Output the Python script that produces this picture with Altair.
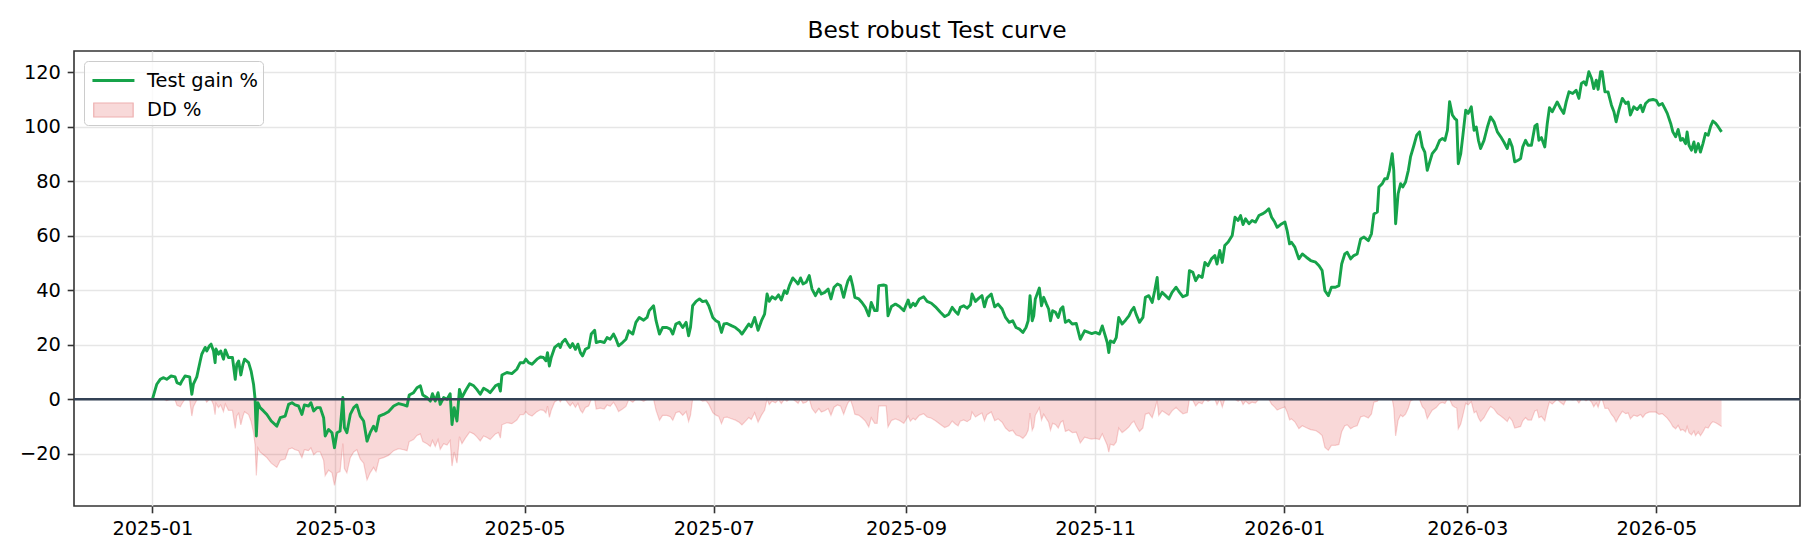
import altair as alt
import pandas as pd

TITLE = "Best robust Test curve"
START = "2025-01-01"
SERIES = ["Test gain %", "DD %"]
ZERO = [0]
TICK_MONTHS = ["2025-01", "2025-03", "2025-05", "2025-07", "2025-09",
               "2025-11", "2026-01", "2026-03", "2026-05"]
Y_TICKS = [-20, 0, 20, 40, 60, 80, 100, 120]

# days after START
DAYS = [
    0, 1.4, 2.5, 3.6, 4.6, 6, 7.3, 7.9, 9, 9.5,
    10.5, 12, 12.7, 13.2, 14.3, 15.4, 15.9, 17, 17.5, 18.4,
    18.9, 19.7, 20.2, 20.5, 21.3, 22, 22.9, 23.5, 24.5, 25.8,
    26.7, 27.2, 27.8, 28.5, 29.2, 29.7, 31, 31.8, 32.6, 33.1,
    33.5, 34, 34.7, 35.8, 36.9, 38.3, 40.1, 41.2, 42.8, 43.9,
    45, 46, 47.1, 48.2, 49, 50.3, 51.1, 52, 53, 54.1,
    55.2, 55.7, 56.8, 57.9, 58.7, 59.5, 60.5, 61.4, 61.9, 62.7,
    63.8, 64.9, 65.9, 67, 68.1, 69.2, 70.2, 71.3, 72.1, 73.1,
    74.5, 76.1, 77.8, 79.4, 81, 82.1, 82.8, 84.2, 85.3, 86.4,
    87.2, 88.5, 89.6, 90.3, 91.2, 92.1, 92.8, 93.9, 95, 96,
    96.6, 97.3, 98.2, 99, 99.8, 100.9, 102.3, 103.6, 104.6, 105.7,
    106.8, 107.9, 108.9, 110.6, 111.6, 112.2, 112.7, 114.3, 115.9, 117.5,
    118.6, 119.7, 120.4, 121.3, 122.4, 124, 125.1, 126.1, 126.9, 127.4,
    128, 128.6, 129.7, 131, 131.5, 132.1, 133.1, 134, 134.7, 135.5,
    136.4, 137.2, 138, 138.7, 139.6, 140.7, 141.5, 142.6, 143.1, 144.4,
    145.7, 146.6, 147.6, 148.7, 149.5, 150.3, 151.6, 152.7, 153.6, 154.9,
    155.9, 157, 158.4, 159.5, 160.2, 161.6, 162.4, 163.5, 164.5, 165.9,
    167, 167.8, 168.8, 169.9, 171, 172.1, 172.9, 173.5, 174.2, 175.3,
    176.4, 177.4, 178.5, 179.4, 180.7, 181.7, 182.6, 183.5, 184.3, 185.3,
    186.7, 188, 189.3, 190.1, 191.2, 192.3, 193.1, 194.2, 195.3, 196.4,
    197.4, 198.2, 198.9, 199.8, 200.9, 201.9, 202.8, 203.8, 204.6, 205.4,
    206.5, 207.3, 208.2, 209, 209.8, 210.8, 211.8, 212.7, 213.8, 214.9,
    215.7, 216.8, 217.9, 218.8, 219.8, 220.9, 221.9, 222.9, 223.7, 224.3,
    225.1, 225.8, 226.5, 227.8, 228.8, 229.9, 231, 231.8, 232.9, 233.7,
    234.2, 235.8, 236.6, 237.2, 238.3, 239.6, 240.9, 242.3, 243.7, 244.4,
    245.3, 246, 247.3, 248.7, 249.8, 251.2, 252.5, 254.1, 255.5, 256.8,
    257.9, 258.9, 259.8, 260.5, 261.6, 262.7, 263.8, 264.3, 265.4, 266.5,
    267.5, 268.3, 269.1, 270.5, 271.6, 272.7, 274, 275.1, 276.3, 277.4,
    278.5, 279.6, 280.7, 281.7, 282.4, 283, 283.7, 284.2, 284.7, 285.3,
    286, 286.7, 287.4, 288.3, 289, 289.6, 290.3, 291.2, 292.1, 292.9,
    293.6, 294.4, 295.5, 296.6, 297.9, 299.2, 300.6, 301.9, 302.9, 304.1,
    305.4, 306.3, 307.1, 307.9, 308.4, 308.9, 310, 310.8, 311.6, 312.7,
    313.8, 314.9, 315.7, 316.5, 317.2, 318.3, 319.4, 320.2, 321.3, 322.4,
    323.2, 324, 324.5, 325.6, 326.7, 327.8, 328.8, 330.1, 331.2, 332.3,
    333.7, 334.4, 335.5, 336.4, 337.4, 338.5, 339.4, 340.4, 341.5, 342.6,
    343.3, 344.2, 345, 345.8, 346.9, 348.2, 349.1, 350.1, 350.9, 351.7,
    352.5, 353.6, 354.6, 355.7, 356.8, 357.9, 358.9, 360, 360.9, 361.9,
    362.7, 363.8, 365.2, 365.9, 366.7, 367.3, 368.4, 369.7, 370.8, 372.1,
    373.5, 375.1, 376.2, 377.2, 378.1, 379.2, 380.2, 381.5, 382.6, 383.5,
    384.5, 385.3, 386.4, 387.4, 388.5, 389.6, 390.7, 392.1, 393.1, 393.9,
    395, 395.5, 396.6, 397.4, 398.2, 398.9, 399.8, 400.3, 400.9, 401.7,
    402.5, 403.2, 404.1, 405, 405.7, 406.8, 407.7, 408.6, 409.5, 410.3,
    411.1, 411.9, 412.7, 414, 415.1, 416, 416.8, 417.6, 418.3, 419.2,
    420, 420.6, 421.1, 421.9, 422.6, 423.5, 424.3, 425.3, 426.2, 426.9,
    427.6, 428.3, 429.4, 430.5, 431.5, 432.6, 433.7, 434.8, 435.8, 436.9,
    437.6, 438.5, 439.3, 440.4, 441.2, 441.9, 442.8, 443.6, 444.7, 445.8,
    446.5, 447.1, 447.9, 449, 449.8, 450.5, 451.4, 452.2, 453, 454.1,
    455.1, 455.9, 456.8, 458, 459.1, 460, 460.8, 461.6, 462.3, 463.2,
    464.1, 464.8, 465.6, 466.2, 467, 467.5, 468.4, 469.4, 470.5, 471.3,
    472, 472.9, 474, 475.1, 475.9, 476.6, 477.7, 478.8, 479.9, 480.6,
    481.5, 482.6, 483.9, 484.9, 485.8, 486.9, 487.7, 488.5, 489.6, 490.3,
    491.2, 492, 492.8, 493.5, 494.4, 494.9, 495.5, 496.3, 497.1, 497.6,
    498.5, 499.2, 500, 500.8, 501.7, 502.5, 503.2, 504.1, 504.9, 506,
]

# Test gain %
GAIN = [
    0, 5.5, 7.3, 7.9, 7.3, 8.5, 8.2, 6.1, 5.5, 6.7,
    8.5, 8.2, 1.8, 5.5, 8.2, 14, 16.5, 19, 17.7, 19.6,
    20.2, 17.7, 13.4, 18.4, 16.5, 17.7, 14.7, 18.1, 15.3, 15.3,
    7.3, 12.8, 14, 8.9, 12.8, 14.7, 13.4, 10.4, 5.5, 0,
    -13.5, -1.3, -3.1, -4.3, -5.6, -8, -9.9, -6.8, -6.2, -1.9,
    -1.3, -2.1, -2.5, -5.6, -2.1, -2.5, -1.3, -4.3, -3.1, -3.1,
    -6.8, -13.5, -11.1, -12.3, -17.8, -12.3, -11.7, 0.6, -10.4, -12.3,
    -5.6, -3.1, -2.1, -6.2, -8, -15.4, -12.3, -9.9, -11.7, -6.2,
    -5.6, -4.6, -2.5, -1.6, -2.1, -2.5, 1.5, 2.4, 4.2, 4.9,
    1.5, 0.6, -0.7, 2, -0.7, 2.4, -1.9, 0.6, 0, 2,
    -9.3, -3.1, -8, 3.6, 0.6, 3, 5.7, 4.9, 3.6, 1.8,
    4, 3.3, 2.4, 4.9, 5.5, 3, 8.9, 9.8, 9.4, 11,
    13.4, 13.4, 14.7, 13.4, 12.8, 14.7, 15.5, 15.3, 14.1, 17.1,
    12.2, 15.3, 19, 20.2, 19, 20.8, 22, 20.2, 19, 20.4,
    18.3, 20.2, 17.1, 15.9, 18.3, 19, 23.9, 25.3, 20.8, 21.2,
    20.8, 22.6, 22, 23.9, 22, 19.6, 20.8, 22, 25.1, 23.9,
    28.2, 30, 29, 30, 32.5, 34.3, 28.8, 23.9, 26.3, 26.3,
    25.7, 23.9, 27.6, 28.2, 26.3, 28.2, 23.3, 26.3, 34.3, 35.9,
    36.8, 35.8, 36.1, 34.3, 30, 28.8, 28.2, 24.5, 27.6, 27.8,
    27, 26.3, 25.1, 23.9, 25.7, 27.6, 26.6, 30, 25.3, 28.8,
    31.2, 38.6, 35.9, 37.6, 36.8, 38.3, 36.4, 39.8, 38.8, 41.7,
    44.5, 43.5, 42.3, 44.5, 42.3, 42.9, 45.4, 40.4, 38, 40.4,
    38.6, 39.2, 40.4, 36.8, 41.1, 42.3, 41.7, 37.4, 41.1, 43.5,
    45, 41.7, 37.4, 36.8, 35.5, 33.7, 30.6, 35.5, 32.5, 32.5,
    41.7, 41.9, 41.7, 30.6, 34, 34.9, 34, 32.5, 36.4, 33.7,
    35.2, 34.3, 36.8, 37.6, 35.9, 35.2, 33.9, 31.9, 30.3, 31.2,
    33.7, 32.2, 31.2, 33.7, 34.3, 33.4, 34.7, 38.6, 35.9, 37.1,
    38, 33.9, 37.1, 38.6, 33.9, 34.9, 33.1, 30, 28.2, 28.8,
    26.3, 25.7, 24.5, 26.3, 28.8, 38, 28.8, 30.6, 36.8, 38.6,
    40.8, 34.3, 37.4, 34.9, 33.1, 28.8, 32.5, 31.9, 30, 33.1,
    33.9, 28.2, 29, 27.6, 27.8, 22, 25.1, 24.5, 24.1, 24.5,
    23.9, 26.9, 23.9, 20.8, 17.1, 21.4, 20.8, 22.6, 30, 27.6,
    29, 30.6, 32.5, 33.7, 31.2, 28.2, 30, 37.4, 38, 35.5,
    39.8, 44.7, 36.8, 39.2, 38, 36.8, 39.2, 41.1, 39.2, 37.6,
    38.3, 47.2, 46.6, 43.5, 45.4, 44.7, 50.2, 49, 51.5, 52.7,
    49.6, 54.6, 50.2, 56.4, 57.7, 60.1, 66.8, 65.6, 67.4, 64.1,
    66.2, 64.4, 65.6, 65, 67.4, 68, 68.7, 69.9, 66.8, 65,
    63.1, 64.1, 65, 61.9, 57, 57.6, 55.8, 51.5, 53.3, 52.1,
    50.9, 50.3, 49, 47.2, 39.8, 38, 41.1, 41.1, 41.7, 49.6,
    53.3, 53.9, 51.5, 52.7, 53.3, 58.8, 59.5, 58.2, 60.7, 68,
    68.7, 77.9, 79.1, 80.9, 80.9, 84, 90.1, 84, 64.4, 75.4,
    79.1, 77.9, 79.7, 84, 88.9, 93.2, 96.9, 98.1, 92.6, 90.7,
    84, 87.1, 90.1, 92, 95, 95.7, 95, 98.7, 109.2, 104.3,
    103, 102.4, 86.4, 90.1, 96.9, 106.1, 104.9, 107.3, 98.7, 99.9,
    95, 92, 95, 99.9, 103.6, 101.8, 98.1, 96.3, 94.4, 92,
    95.3, 92.6, 87.1, 87.7, 88.3, 92.6, 95, 93.2, 93.2, 100.2,
    100.9, 95, 96, 92.6, 101.2, 107, 105.5, 107.3, 109.1, 106.7,
    104.9, 109.1, 112.8, 112.2, 113.4, 110.4, 115.9, 116.5, 115.3, 120.2,
    117.7, 114, 117.1, 113.7, 120.2, 120.2, 112.8, 112.8, 107.9, 105.5,
    101.8, 106.1, 110.4, 108.5, 109.1, 104.3, 107.3, 106.3, 107.9, 105.5,
    108.5, 109.7, 110, 109.7, 107.9, 108.5, 106.7, 104.9, 101.2, 98.1,
    96.3, 99, 95, 95.7, 93.8, 98.1, 93.2, 91.4, 94.4, 90.7,
    93.8, 90.7, 93.8, 97.5, 96.9, 100.2, 102.1, 101.2, 100, 98.1,
]

# DD %
DD = [
    0, 0, 0, 0, -0.56, 0, -0.28, -2.21, -2.76, -1.66,
    0, -0.28, -6.18, -2.76, -0.28, 0, 0, 0, -1.09, 0,
    0, -2.08, -5.66, -1.5, -3.08, -2.08, -4.58, -1.75, -4.08, -4.08,
    -10.73, -6.16, -5.16, -9.4, -6.16, -4.58, -5.66, -8.15, -12.23, -16.81,
    -28.04, -17.89, -19.38, -20.38, -21.46, -23.46, -25.04, -22.46, -21.96, -18.39,
    -17.89, -18.55, -18.89, -21.46, -18.55, -18.89, -17.89, -20.38, -19.38, -19.38,
    -22.46, -28.04, -26.04, -27.04, -31.61, -27.04, -26.54, -16.31, -25.46, -27.04,
    -21.46, -19.38, -18.55, -21.96, -23.46, -29.62, -27.04, -25.04, -26.54, -21.96,
    -21.46, -20.63, -18.89, -18.14, -18.55, -18.89, -15.56, -14.81, -13.31, -12.73,
    -15.56, -16.31, -17.39, -15.14, -17.39, -14.81, -18.39, -16.31, -16.81, -15.14,
    -24.54, -19.38, -23.46, -13.81, -16.31, -14.31, -12.06, -12.73, -13.81, -15.31,
    -13.48, -14.06, -14.81, -12.73, -12.23, -14.31, -9.4, -8.65, -8.99, -7.65,
    -5.66, -5.66, -4.58, -5.66, -6.16, -4.58, -3.91, -4.08, -5.07, -2.58,
    -6.66, -4.08, -1.0, 0, -1.0, 0, 0, -1.48, -2.46, -1.31,
    -3.03, -1.48, -4.02, -5.0, -3.03, -2.46, 0, 0, -3.59, -3.27,
    -3.59, -2.15, -2.63, -1.12, -2.63, -4.55, -3.59, -2.63, -0.16, -1.12,
    0, 0, -0.77, 0, 0, 0, -4.1, -7.74, -5.96, -5.96,
    -6.4, -7.74, -4.99, -4.54, -5.96, -4.54, -8.19, -5.96, 0, 0,
    0, -0.73, -0.51, -1.83, -4.97, -5.85, -6.29, -8.99, -6.73, -6.58,
    -7.16, -7.68, -8.55, -9.43, -8.11, -6.73, -7.46, -4.97, -8.41, -5.85,
    -4.09, 0, -1.95, -0.72, -1.3, -0.22, -1.59, 0, -0.72, 0,
    0, -0.69, -1.52, 0, -1.52, -1.11, 0, -3.44, -5.09, -3.44,
    -4.68, -4.26, -3.44, -5.92, -2.96, -2.13, -2.54, -5.5, -2.96, -1.31,
    -0.28, -2.54, -5.5, -5.92, -6.81, -8.05, -10.18, -6.81, -8.87, -8.87,
    -2.54, -2.41, -2.54, -10.18, -7.84, -7.22, -7.84, -8.87, -6.19, -8.05,
    -7.01, -7.63, -5.92, -5.36, -6.53, -7.01, -7.91, -9.28, -10.39, -9.77,
    -8.05, -9.08, -9.77, -8.05, -7.63, -8.25, -7.36, -4.68, -6.53, -5.71,
    -5.09, -7.91, -5.71, -4.68, -7.91, -7.22, -8.46, -10.59, -11.83, -11.42,
    -13.13, -13.55, -14.37, -13.13, -11.42, -5.09, -11.42, -10.18, -5.92, -4.68,
    -3.16, -7.63, -5.5, -7.22, -8.46, -11.42, -8.87, -9.28, -10.59, -8.46,
    -7.91, -11.83, -11.28, -12.24, -12.1, -16.09, -13.96, -14.37, -14.65, -14.37,
    -14.79, -12.72, -14.79, -16.92, -19.46, -16.51, -16.92, -15.68, -10.59, -12.24,
    -11.28, -10.18, -8.87, -8.05, -9.77, -11.83, -10.59, -5.5, -5.09, -6.81,
    -3.85, -0.48, -5.92, -4.26, -5.09, -5.92, -4.26, -2.96, -4.26, -5.36,
    -4.88, 0, -0.41, -2.51, -1.22, -1.7, 0, -0.8, 0, 0,
    -2.03, 0, -2.85, 0, 0, 0, 0, -0.72, 0, -1.97,
    -0.72, -1.79, -1.08, -1.43, 0, 0, 0, 0, -1.82, -2.88,
    -4.0, -3.41, -2.88, -4.71, -7.59, -7.24, -8.3, -10.83, -9.77, -10.47,
    -11.18, -11.53, -12.3, -13.36, -17.72, -18.78, -16.95, -16.95, -16.6, -11.95,
    -9.77, -9.42, -10.83, -10.12, -9.77, -6.53, -6.12, -6.89, -5.42, -1.12,
    -0.71, 0, 0, 0, 0, 0, 0, -3.21, -13.52, -7.73,
    -5.79, -6.42, -5.47, -3.21, -0.63, 0, 0, 0, -2.78, -3.73,
    -7.12, -5.55, -4.04, -3.08, -1.56, -1.21, -1.56, 0, 0, -2.34,
    -2.96, -3.25, -10.9, -9.13, -5.88, -1.48, -2.06, -0.91, -5.02, -4.45,
    -6.79, -8.22, -6.79, -4.45, -2.68, -3.54, -5.31, -6.17, -7.07, -8.22,
    -6.64, -7.93, -10.56, -10.27, -9.99, -7.93, -6.79, -7.65, -7.65, -4.3,
    -3.97, -6.79, -6.31, -7.93, -3.82, -1.05, -1.77, -0.91, -0.05, -1.2,
    -2.06, -0.05, 0, -0.28, 0, -1.41, 0, 0, -0.55, 0,
    -1.14, -2.82, -1.41, -2.95, 0, 0, -3.36, -3.36, -5.59, -6.68,
    -8.36, -6.4, -4.45, -5.31, -5.04, -7.22, -5.86, -6.31, -5.59, -6.68,
    -5.31, -4.77, -4.63, -4.77, -5.59, -5.31, -6.13, -6.95, -8.63, -10.04,
    -10.86, -9.63, -11.45, -11.13, -11.99, -10.04, -12.26, -13.08, -11.72, -13.4,
    -11.99, -13.4, -11.99, -10.31, -10.58, -9.09, -8.22, -8.63, -9.18, -10.04,
]

assert len(DAYS) == len(GAIN) == len(DD), (len(DAYS), len(GAIN), len(DD))

GREEN = "#16a34a"
RED = "#dc2626"
ZERO_COLOR = "#334155"
FONT = "DejaVu Sans"

# legend handle shapes (line for the curve, flat box for the drawdown band)
LINE_PATH = "M-0.85,0H2.38"
RECT_PATH = "M-0.75,-0.54H2.28V0.54H-0.75Z"

DAY_MS = 86400000
t0 = int(pd.Timestamp(START, tz="UTC").value // 10**6)
df = pd.DataFrame({
    "t": [t0 + d * DAY_MS for d in DAYS],
    "gain": GAIN,
    "dd": DD,
})
tick_ms = [int(pd.Timestamp(m + "-01", tz="UTC").value // 10**6) for m in TICK_MONTHS]

tmin, tmax = float(df["t"].min()), float(df["t"].max())
span = tmax - tmin
xdom = [tmin - 0.05 * span, tmax + 0.05 * span]
lo = float(min(min(GAIN), min(DD)))
hi = float(max(max(GAIN), max(DD)))
ydom = [lo - 0.05 * (hi - lo), hi + 0.05 * (hi - lo)]

x_enc = alt.X(
    "t:T",
    scale=alt.Scale(type="utc", domain=xdom, nice=False),
    axis=alt.Axis(values=tick_ms, format="%Y-%m", title=None, grid=True,
                  labelFlush=False, labelOverlap=False),
)
y_axis = alt.Axis(values=Y_TICKS, title=None, grid=True,
                  labelExpr="replace(datum.label, '-', '\u2212')")
y_scale = alt.Scale(domain=ydom, nice=False, zero=False)

base = alt.Chart(df)

dd_area = base.mark_area(color=RED, fillOpacity=0.18, interpolate="linear").encode(
    x=x_enc,
    y=alt.Y("dd:Q", scale=y_scale, axis=y_axis),
    y2=alt.datum(0),
)
dd_edge = base.mark_line(color=RED, strokeOpacity=0.2, strokeWidth=1.2).encode(
    x=x_enc,
    y=alt.Y("dd:Q", scale=y_scale, axis=y_axis),
)
gain_line = base.mark_line(color=GREEN, strokeWidth=2.9, strokeJoin="round").encode(
    x=x_enc,
    y=alt.Y("gain:Q", scale=y_scale, axis=y_axis),
)
zero_rule = alt.Chart(pd.DataFrame({"level": ZERO})).mark_rule(
    color=ZERO_COLOR, strokeWidth=2.4
).encode(y=alt.Y("level:Q", scale=y_scale, axis=y_axis))

legend_layer = (
    alt.Chart(pd.DataFrame({"series": SERIES}))
    .transform_filter("false")
    .mark_point(opacity=1, filled=False)
    .encode(
        shape=alt.Shape("series:N", title=None,
                        scale=alt.Scale(domain=SERIES, range=[LINE_PATH, RECT_PATH])),
        stroke=alt.Stroke("series:N", title=None,
                          scale=alt.Scale(domain=SERIES, range=[GREEN, "#eeb0b0"])),
        fill=alt.Fill("series:N", title=None,
                      scale=alt.Scale(domain=SERIES, range=["transparent", "#f8d9d9"])),
        strokeWidth=alt.StrokeWidth("series:N", title=None,
                                    scale=alt.Scale(domain=SERIES, range=[2.9, 1.2])),
    )
)

chart = (
    alt.layer(dd_area, dd_edge, gain_line, zero_rule, legend_layer)
    .properties(
        width=1726,
        height=455,
        title=alt.TitleParams(TITLE, font=FONT, fontSize=23.3, fontWeight="normal",
                              color="#000000", anchor="middle", frame="group",
                              baseline="alphabetic", offset=9, dy=19),
        autosize=alt.AutoSizeParams(type="none"),
        padding={"left": 66, "top": 43, "right": 10, "bottom": 45},
    )
    .configure(font=FONT)
    .configure_view(stroke="#333333", strokeWidth=1.6)
    .configure_axis(
        labelFont=FONT, labelFontSize=19.4, labelColor="#000000",
        tickColor="#333333", tickSize=6.8, tickWidth=1.6, labelPadding=6.8,
        domain=False, gridColor="#e6e6e6", gridWidth=1.5,
    )
    .configure_legend(
        orient="top-left", offset=10, padding=5,
        strokeColor="#cccccc", fillColor="rgba(255,255,255,0.8)", cornerRadius=4,
        labelFont=FONT, labelFontSize=19.4, labelColor="#000000",
        symbolSize=676, labelOffset=29, rowPadding=6,
    )
)

chart.save("out.html", embed_options={"renderer": "svg", "actions": False})
